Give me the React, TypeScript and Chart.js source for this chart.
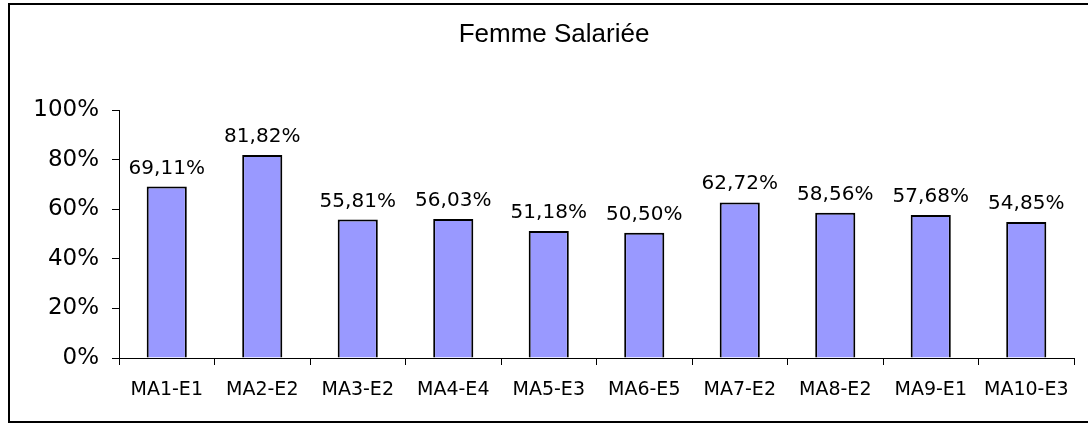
import React, { useEffect, useRef } from "react";
import { Chart, registerables } from "chart.js";

Chart.register(...registerables);

const chartTitle = "Femme Salariée";
const categories = ["MA1-E1", "MA2-E2", "MA3-E2", "MA4-E4", "MA5-E3", "MA6-E5", "MA7-E2", "MA8-E2", "MA9-E1", "MA10-E3"];
const values = [69.11, 81.82, 55.81, 56.03, 51.18, 50.5, 62.72, 58.56, 57.68, 54.85];
const yTicks = [0, 20, 40, 60, 80, 100];

const fmt = (v: number) => v.toFixed(2).replace(".", ",") + "%";

const labelPlugin = {
  id: "barLabels",
  afterDatasetsDraw(chart: any) {
    const ctx = chart.ctx;
    const meta = chart.getDatasetMeta(0);
    ctx.save();
    ctx.font = '20px "DejaVu Sans"';
    ctx.fillStyle = "#000";
    ctx.textAlign = "center";
    ctx.textBaseline = "alphabetic";
    meta.data.forEach((bar: any, i: number) => {
      ctx.fillText(fmt(values[i]), bar.x, bar.y - 13);
    });
    ctx.restore();
  },
};

const titlePlugin = {
  id: "customTitle",
  afterDraw(chart: any) {
    const ctx = chart.ctx;
    ctx.save();
    ctx.font = '26px "Liberation Sans"';
    ctx.fillStyle = "#000";
    ctx.textAlign = "center";
    ctx.textBaseline = "alphabetic";
    ctx.fillText(chartTitle, 554, 42);
    ctx.restore();
  },
};

export default function App() {
  const ref = useRef<HTMLCanvasElement>(null);
  useEffect(() => {
    if (!ref.current) return;
    const chart = new Chart(ref.current, {
      type: "bar",
      data: {
        labels: categories,
        datasets: [
          {
            data: values,
            backgroundColor: "#9999FF",
            borderColor: "#000",
            borderWidth: 2,
            barPercentage: 0.42,
            categoryPercentage: 1,
          },
        ],
      },
      options: {
        animation: false,
        responsive: false,
        events: [],
        layout: { padding: { top: 110, right: 14, bottom: 0, left: 0 } },
        plugins: { legend: { display: false }, tooltip: { enabled: false }, title: { display: false } },
        scales: {
          x: {
            offset: true,
            grid: { display: true, drawOnChartArea: false, drawTicks: true, tickLength: 7, color: "#000", offset: true },
            border: { display: true, color: "#000", width: 1 },
            ticks: { color: "#000", font: { family: "DejaVu Sans", size: 19 }, padding: 14, maxRotation: 0, autoSkip: false },
            afterFit: (s: any) => { s.height = 69; },
          },
          y: {
            min: 0,
            max: 100,
            afterBuildTicks: (s: any) => { s.ticks = yTicks.map((v) => ({ value: v })); },
            grid: { display: true, drawOnChartArea: false, drawTicks: true, tickLength: 7, color: "#000" },
            border: { display: true, color: "#000", width: 1 },
            ticks: { color: "#000", font: { family: "DejaVu Sans", size: 23 }, padding: 13, callback: (v: any) => v + "%" },
            afterFit: (s: any) => { s.width = 119; },
          },
        },
      },
      plugins: [labelPlugin, titlePlugin],
    });
    return () => chart.destroy();
  }, []);
  return (
    <div style={{ position: "fixed", left: 0, top: 0, width: 1088, height: 427, background: "#fff", overflow: "hidden" }}>
      <div style={{ position: "absolute", left: 8, top: 3, width: 1094, height: 420, border: "2px solid #000", boxSizing: "border-box" }} />
      <canvas ref={ref} width={1088} height={427} style={{ position: "absolute", left: 0, top: 0 }} />
    </div>
  );
}
